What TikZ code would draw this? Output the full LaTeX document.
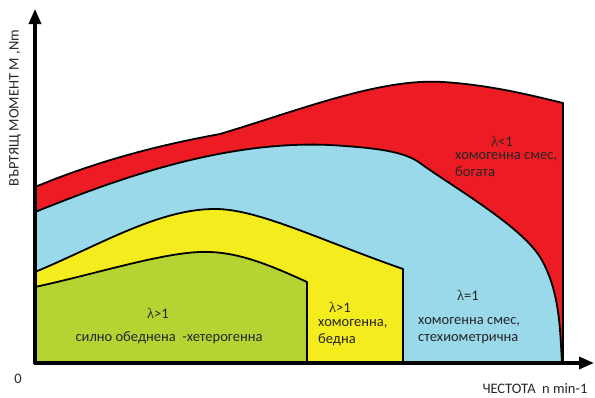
\documentclass[tikz,border=0pt]{standalone}
\usepackage{fontspec}
\setmainfont{Carlito}
\newfontfamily\lamfont{Liberation Serif}
\usetikzlibrary{arrows.meta}
\definecolor{bogata}{RGB}{237,28,36}
\definecolor{stehio}{RGB}{153,217,234}
\definecolor{bedna}{RGB}{245,236,30}
\definecolor{heter}{RGB}{182,211,52}
\tikzset{
  zone/.style={line width=1.8pt},
  lbl/.style={font=\fontsize{14.5}{17}\selectfont,text=black!85,inner sep=0pt},
  row/.style={lbl,anchor=base west},
  axis/.style={line width=3.2pt,-{Triangle[length=15pt,width=12pt]}}
}
\newcommand{\lam}{{\lamfont λ}}
\begin{document}
\begin{tikzpicture}[x=1pt,y=-1pt,line join=round,line cap=round]
    \useasboundingbox (0,0) rectangle (595,397);
    \def\xo{35} \def\yo{363}
    % lambda<1, rich
    \filldraw[zone,fill=bogata] (\xo,\yo) -- (\xo,187)
    .. controls (100,160) and (160,145) .. (220,134)
    .. controls (300,110) and (380,78) .. (443,82)
    .. controls (490,85) and (530,95) .. (563,103)
    -- (563,\yo) -- cycle;
    % lambda=1
    \filldraw[zone,fill=stehio] (\xo,\yo) -- (\xo,212)
    .. controls (110,182) and (220,140) .. (330,145)
    .. controls (380,148) and (405,152) .. (420,163)
    .. controls (450,185) and (520,225) .. (540,257)
    .. controls (560,290) and (560,330) .. (562,\yo)
    -- cycle;
    % lambda>1, homogeneous
    \filldraw[zone,fill=bedna] (\xo,\yo) -- (\xo,272)
    .. controls (100,245) and (160,208) .. (217,209)
    .. controls (260,210) and (320,240) .. (403,269)
    -- (403,\yo) -- cycle;
    % lambda>1, heterogeneous
    \filldraw[zone,fill=heter] (\xo,\yo) -- (\xo,287)
    .. controls (100,273) and (170,250) .. (210,252)
    .. controls (240,253) and (270,265) .. (307,282)
    -- (307,\yo) -- cycle;
    % axes
    \draw[axis] (\xo,\yo) -- (594,\yo);
    \draw[axis] (\xo,\yo) -- (\xo,9);
    \node[lbl,rotate=90] (ylab) at (15,108) {ВЪРТЯЩ МОМЕНТ М ,Nm};
    \node[lbl,anchor=base] (orig) at (18,383) {0};
    \node[lbl,anchor=base] (xlab) at (535,393) {ЧЕСТОТА\ \ n min-1};
    % labels in the zones
    \node[lbl,anchor=base] (lrich) at (502,146) {\lam<1};
    \node[row] (trich1) at (455,159) {хомогенна смес,};
    \node[row] (trich2) at (455,176) {богата};
    \node[lbl,anchor=base] (lstoich) at (468,300) {\lam=1};
    \node[row] (tstoich1) at (418,324) {хомогенна смес,};
    \node[row] (tstoich2) at (418,341) {стехиометрична};
    \node[lbl,anchor=base] (llean) at (340,312) {\lam>1};
    \node[row] (tlean1) at (318,326) {хомогенна,};
    \node[row] (tlean2) at (318,343) {бедна};
    \node[lbl,anchor=base] (lhet) at (158,318) {\lam>1};
    \node[lbl,anchor=base] (thet) at (169,341) {силно обеднена\ \ -хетерогенна};
\end{tikzpicture}
\end{document}
